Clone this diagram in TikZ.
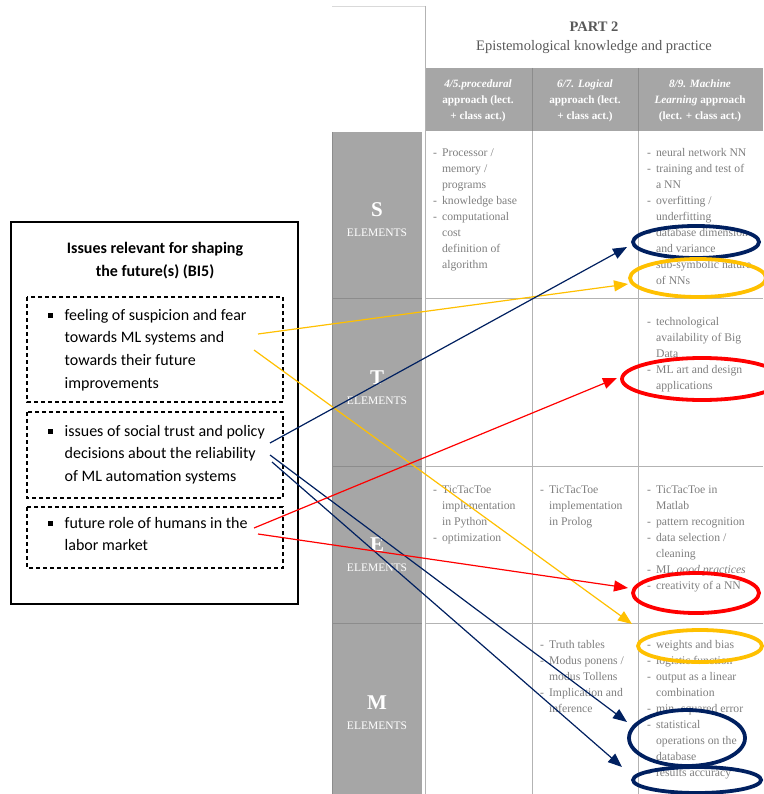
\documentclass[tikz,border=0pt]{standalone}
\usepackage{fontspec}
\setmainfont{Liberation Serif}
\newfontfamily\calibri{Carlito}
\usetikzlibrary{arrows.meta}
\definecolor{gridgray}{HTML}{B3B3B3}
\definecolor{cellgray}{HTML}{A6A6A6}
\definecolor{edgegray}{HTML}{8C8C8C}
\definecolor{txtgray}{HTML}{808080}
\definecolor{hdgray}{HTML}{595959}
\definecolor{navy}{HTML}{002060}
\definecolor{gold}{HTML}{FFC000}
\newcommand{\celllist}[1]{\begin{tabular}[t]{@{}l@{\hspace{5pt}}l@{}}#1\end{tabular}}
\newcommand{\issuelist}[1]{\begin{tabular}[t]{@{}l@{\hspace{12pt}}l@{}}#1\end{tabular}}
\newcommand{\sqbullet}{\rule[2.5pt]{4.5pt}{4.5pt}}
\begin{document}
\begin{tikzpicture}[x=1pt,y=-1pt,
  gridline/.style={draw=gridgray,line width=0.8pt},
  celltxt/.style={anchor=base west,inner sep=0pt,text=txtgray,font=\fontsize{11.7}{16}\selectfont},
  headtxt/.style={align=center,inner sep=0pt,text=white,font=\fontsize{11.2}{16}\selectfont\bfseries},
  rowletter/.style={inner sep=0pt,text=white,font=\fontsize{21}{24}\selectfont\bfseries},
  rowword/.style={inner sep=0pt,text=white,font=\fontsize{11.5}{13}\selectfont},
  issuetxt/.style={anchor=base west,inner sep=0pt,font=\calibri\fontsize{16}{22.7}\selectfont},
  dashbox/.style={draw,dash pattern=on 4pt off 3pt,line width=1.1pt},
  link/.style={line width=1.2pt,-{Triangle[length=14pt,width=11pt]}},
  ring/.style={line width=3.8pt}]
\useasboundingbox (0,0) rectangle (763,794);
\fill[white] (0,0) rectangle (763,794);

% table frame
\draw[gray!30,line width=0.6pt] (332,6) -- (425,6);
\fill[cellgray] (425,68) rectangle (763,131);
\draw[edgegray,line width=0.7pt] (532,68) -- (532,131);
\draw[edgegray,line width=0.7pt] (638,68) -- (638,131);
\fill[cellgray] (332,132) rectangle (422,794);
\draw[edgegray,line width=1pt] (332,132) -- (332,794);
\foreach \y in {298,466,623}
  \draw[edgegray,line width=0.8pt] (332,\y) -- (422,\y);
\draw[gridline] (425,6) -- (425,794);
\draw[gridline] (532,131) -- (532,794);
\draw[gridline] (638,131) -- (638,794);
\foreach \y in {298,466,623}
  \draw[gridline] (425,\y) -- (763,\y);

% header
\node[text=hdgray,font=\fontsize{14.5}{16}\selectfont\bfseries] (part) at (594,27) {PART 2};
\node[text=hdgray,font=\fontsize{14.5}{16}\selectfont] (epist) at (594,47) {Epistemological knowledge and practice};
\node[headtxt] (hproc) at (478,101) {\textit{4/5.procedural}\\approach (lect.\\+ class act.)};
\node[headtxt] (hlogic) at (585,101) {\textit{6/7. Logical}\\approach (lect.\\+ class act.)};
\node[headtxt] (hml) at (700,101) {\textit{8/9. Machine}\\\textit{Learning} approach\\(lect. + class act.)};

% row labels
\foreach \l/\y in {S/210,T/378,E/545,M/703} {
  \node[rowletter] (let\l) at (377,\y) {\l};
  \node[rowword] (el\l) at (377,\y+23) {ELEMENTS};
}

% cells
\node[celltxt] (sproc) at (433,157) {\celllist{- & Processor /\\ & memory /\\ & programs\\ - & knowledge base\\ - & computational\\ & cost\\ & definition of\\ & algorithm}};
\node[celltxt] (sml) at (647,157) {\celllist{- & neural network NN\\ - & training and test of\\ & a NN\\ - & overfitting /\\ & underfitting\\ - & database dimension\\ & and variance\\ - & sub-symbolic nature\\ & of NNs}};
\node[celltxt] (tml) at (647,325) {\celllist{- & technological\\ & availability of Big\\ & Data\\ - & ML art and design\\ & applications}};
\node[celltxt] (eproc) at (433,493) {\celllist{- & TicTacToe\\ & implementation\\ & in Python\\ - & optimization}};
\node[celltxt] (elogic) at (540,493) {\celllist{- & TicTacToe\\ & implementation\\ & in Prolog}};
\node[celltxt] (eml) at (647,493) {\celllist{- & TicTacToe in\\ & Matlab\\ - & pattern recognition\\ - & data selection /\\ & cleaning\\ - & ML \textit{good practices}\\ - & creativity of a NN}};
\node[celltxt] (mlogic) at (540,648) {\celllist{- & Truth tables\\ - & Modus ponens /\\ & modus Tollens\\ - & Implication and\\ & inference}};
\node[celltxt] (mml) at (647,648) {\celllist{- & weights and bias\\ - & logistic function\\ - & output as a linear\\ & combination\\ - & min. squared error\\ - & statistical\\ & operations on the\\ & database\\ - & results accuracy}};

% issues box
\draw[line width=1.3pt] (11,222) rectangle (298,604);
\node[align=center,font=\calibri\fontsize{16}{23}\selectfont\bfseries] (title) at (155,261) {Issues relevant for shaping\\the future(s) (BI5)};
\draw[dashbox] (27,297) rectangle (283,402);
\draw[dashbox] (27,412) rectangle (283,498);
\draw[dashbox] (27,507) rectangle (283,568);
\node[issuetxt] (fear) at (48,320) {\issuelist{\sqbullet & feeling of suspicion and fear\\ & towards ML systems and\\ & towards their future\\ & improvements}};
\node[issuetxt] (trust) at (48,436) {\issuelist{\sqbullet & issues of social trust and policy\\ & decisions about the reliability\\ & of ML automation systems}};
\node[issuetxt] (labor) at (48,528) {\issuelist{\sqbullet & future role of humans in the\\ & labor market}};

% links
\coordinate (fearA) at (258,334);
\coordinate (fearB) at (254,350);
\coordinate (trustA) at (270,443);
\coordinate (trustB) at (270,455);
\coordinate (trustC) at (272,462);
\coordinate (laborA) at (254,528);
\coordinate (laborB) at (258,534);
\coordinate (toSub) at (628,284);
\coordinate (toWeights) at (632,624);
\coordinate (toDb) at (627,247);
\coordinate (toStat) at (627,722);
\coordinate (toAcc) at (622,767);
\coordinate (toArt) at (617,378);
\coordinate (toCreat) at (628,588);
\draw[link,gold] (fearA) -- (toSub);
\draw[link,gold] (fearB) -- (toWeights);
\draw[link,navy] (trustA) -- (toDb);
\draw[link,navy] (trustB) -- (toStat);
\draw[link,navy] (trustC) -- (toAcc);
\draw[link,red] (laborA) -- (toArt);
\draw[link,red] (laborB) -- (toCreat);

% rings
\draw[ring,navy] (696,242) ellipse [x radius=63pt,y radius=16pt];
\draw[ring,gold] (698,278) ellipse [x radius=68pt,y radius=19pt];
\draw[ring,red] (702,379) ellipse [x radius=80pt,y radius=21pt];
\draw[ring,red] (696,593) ellipse [x radius=63pt,y radius=20pt];
\draw[ring,gold] (700,646) ellipse [x radius=62pt,y radius=16pt];
\draw[ring,navy] (687,738) ellipse [x radius=58pt,y radius=28pt];
\draw[ring,navy] (697,780) ellipse [x radius=64pt,y radius=13pt];
\end{tikzpicture}
\end{document}
